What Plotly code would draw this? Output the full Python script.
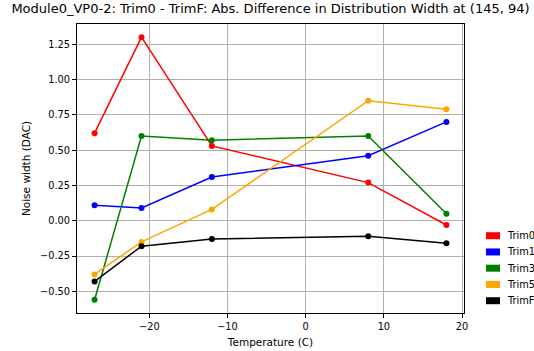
import plotly.graph_objects as go

temperatures = [-27, -21, -12, 8, 18]
series_names = ["Trim0", "Trim1", "Trim3", "Trim5", "TrimF"]
trim0 = [0.62, 1.30, 0.53, 0.27, -0.03]
trim1 = [0.11, 0.09, 0.31, 0.46, 0.70]
trim3 = [-0.56, 0.60, 0.57, 0.60, 0.05]
trim5 = [-0.38, -0.15, 0.08, 0.85, 0.79]
trimF = [-0.43, -0.18, -0.13, -0.11, -0.16]
colors = ["red", "blue", "green", "orange", "black"]

y_ticks = [-0.5, -0.25, 0.0, 0.25, 0.5, 0.75, 1.0, 1.25]
x_ticks = [-20, -10, 0, 10, 20]

W, H = 534, 351
L, R, T, B = 77, 70, 24, 38
pw, ph = W - L - R, H - T - B

def px_x(px):
    return (px - L) / pw

def px_y(py):
    return (H - B - py) / ph

fig = go.Figure()
for name, vals, c in zip(series_names, [trim0, trim1, trim3, trim5, trimF], colors):
    fig.add_trace(go.Scatter(x=temperatures, y=vals, mode="lines+markers", name=name,
                             line=dict(color=c, width=1.5), marker=dict(color=c, size=6),
                             showlegend=False))

font = "DejaVu Sans"
# manual legend (matplotlib style patches)
shapes = []
annotations = []
for i, (name, c) in enumerate(zip(series_names, colors)):
    cy = 235.7 + i * 16.25
    shapes.append(dict(type="rect", xref="paper", yref="paper",
                       x0=px_x(486), x1=px_x(500), y0=px_y(cy + 3.5), y1=px_y(cy - 3.5),
                       fillcolor=c, line=dict(width=0), layer="above"))
    annotations.append(dict(text=name, xref="paper", yref="paper", x=px_x(505), y=px_y(cy),
                            xanchor="left", yanchor="middle", showarrow=False,
                            font=dict(family=font, size=9.8, color="black")))

axis_common = dict(showline=True, linecolor="black", linewidth=1, mirror=True,
                   ticks="outside", ticklen=4, tickcolor="black",
                   showgrid=True, gridcolor="#b0b0b0", gridwidth=1, zeroline=False,
                   tickfont=dict(family=font, size=9.8, color="black"))

fig.update_layout(
    width=W, height=H,
    margin=dict(l=L, r=R, t=T, b=B, autoexpand=False),
    paper_bgcolor="white", plot_bgcolor="white",
    title=dict(text="Module0_VP0-2: Trim0 - TrimF: Abs. Difference in Distribution Width at (145, 94)",
               x=0.5, xref="paper", xanchor="center", y=1, yref="container", yanchor="top",
               pad=dict(t=4), font=dict(family=font, size=13, color="black")),
    xaxis=dict(range=[-29.25, 20.25], tickvals=x_ticks,
               title=dict(text="Temperature (C)", font=dict(family=font, size=10.5, color="black"), standoff=7),
               **axis_common),
    yaxis=dict(range=[-0.6535, 1.3935], tickvals=y_ticks, tickformat=".2f",
               title=dict(text="Noise width (DAC)", font=dict(family=font, size=10.5, color="black"), standoff=7),
               **axis_common),
    shapes=shapes,
    annotations=annotations,
    showlegend=False,
)

fig.write_html("out.html")
